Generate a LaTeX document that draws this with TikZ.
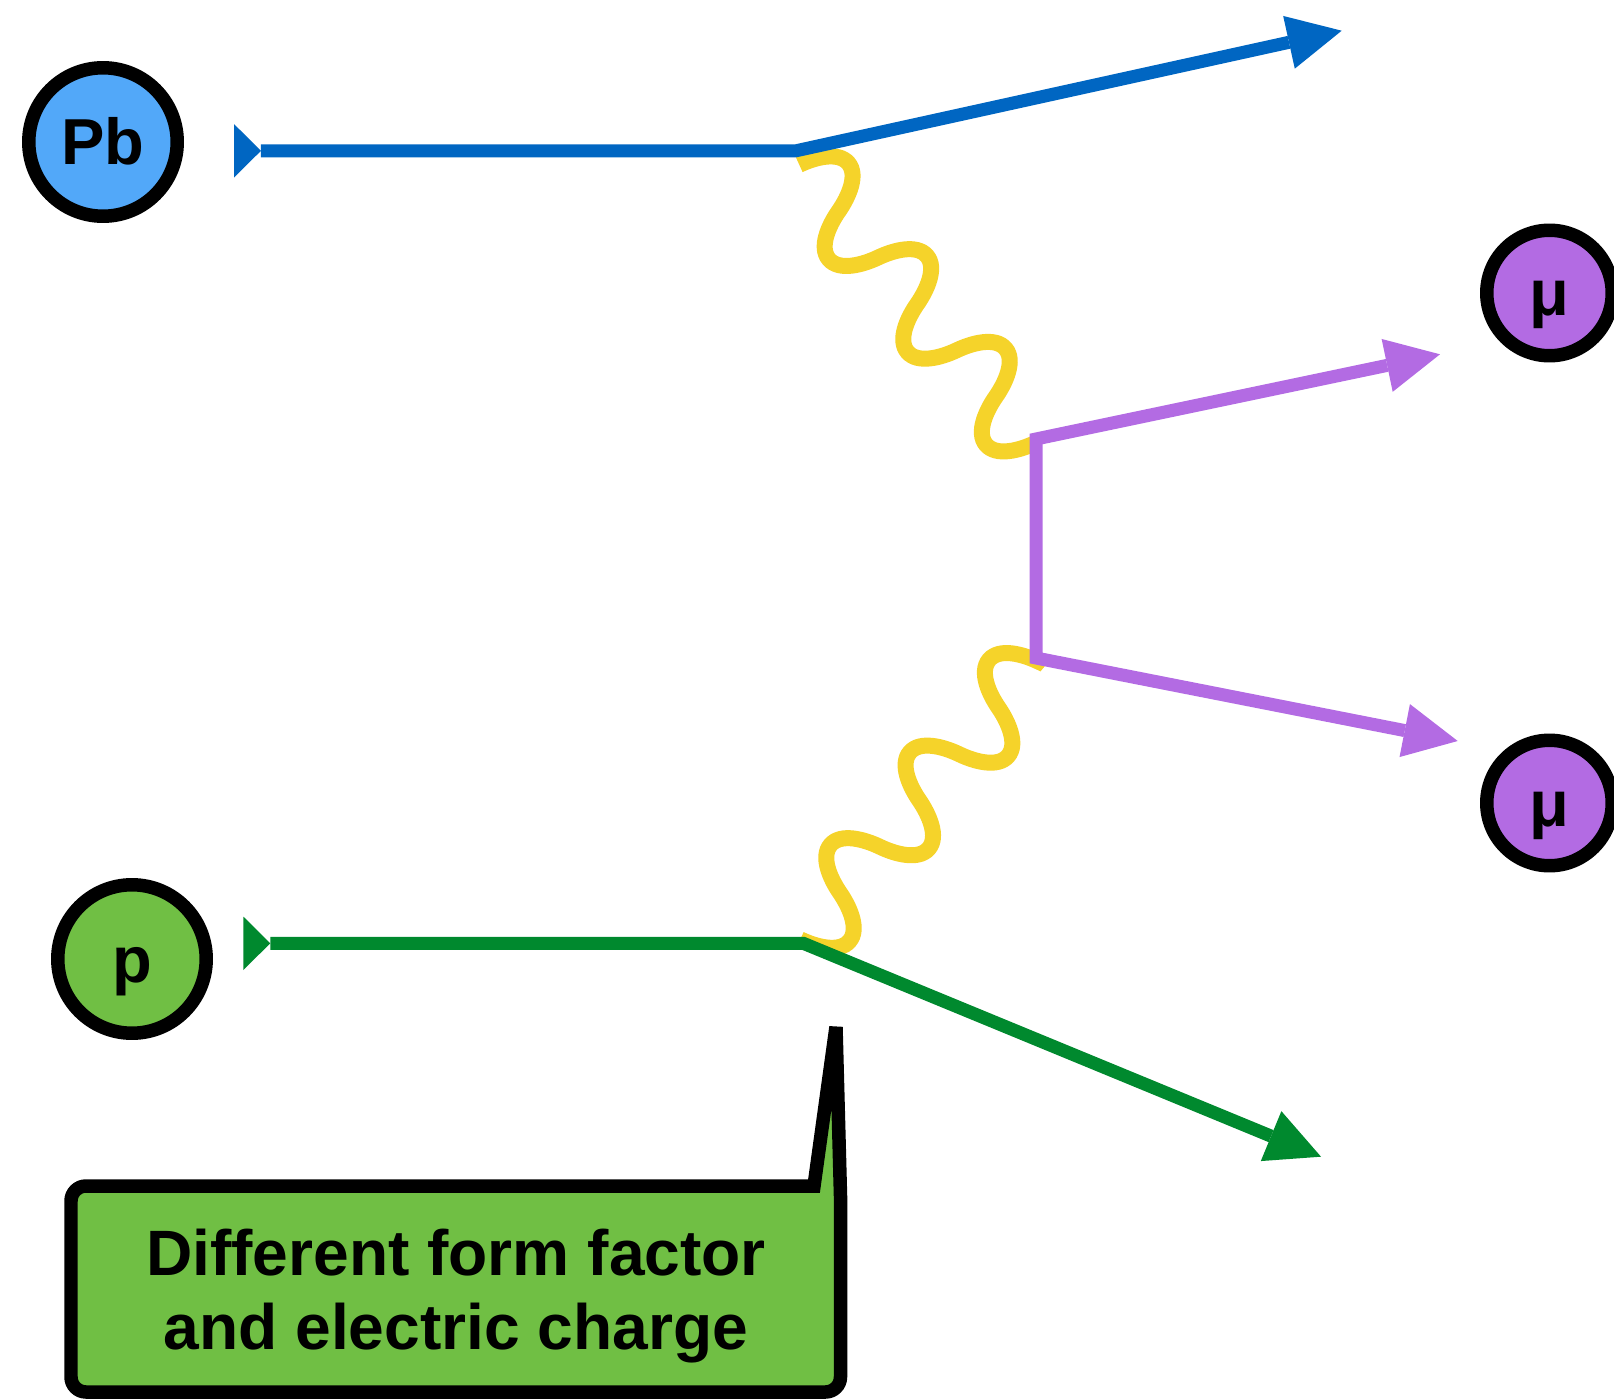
\documentclass[tikz,border=0pt]{standalone}
\usepackage{fontspec}
\setmainfont{Liberation Sans}
\usetikzlibrary{arrows.meta,decorations}

\definecolor{pbfill}{HTML}{52A8F9}
\definecolor{pbline}{HTML}{0066C2}
\definecolor{mucol}{HTML}{B36BE3}
\definecolor{pfill}{HTML}{70BF44}
\definecolor{pline}{HTML}{00892E}
\definecolor{photoncol}{HTML}{F5D32A}

% photon line: six rounded half waves spread over the whole path
\newdimen\wavequarter
\pgfdeclaredecoration{photonwave}{up}{%
  \state{up}[width=\pgfdecoratedpathlength/6-0.05pt, next state=down]{%
    \pgfmathsetlength\wavequarter{\pgfdecoratedpathlength/12}%
    \pgfpathcurveto{\pgfqpoint{0.147\wavequarter}{0.434\pgfdecorationsegmentamplitude}}%
                   {\pgfqpoint{0.485\wavequarter}{\pgfdecorationsegmentamplitude}}%
                   {\pgfqpoint{\wavequarter}{\pgfdecorationsegmentamplitude}}%
    \pgfpathcurveto{\pgfqpoint{1.515\wavequarter}{\pgfdecorationsegmentamplitude}}%
                   {\pgfqpoint{1.853\wavequarter}{0.434\pgfdecorationsegmentamplitude}}%
                   {\pgfqpoint{2\wavequarter}{0pt}}%
  }%
  \state{down}[width=\pgfdecoratedpathlength/6-0.05pt, next state=up]{%
    \pgfmathsetlength\wavequarter{\pgfdecoratedpathlength/12}%
    \pgfpathcurveto{\pgfqpoint{0.147\wavequarter}{-0.434\pgfdecorationsegmentamplitude}}%
                   {\pgfqpoint{0.485\wavequarter}{-\pgfdecorationsegmentamplitude}}%
                   {\pgfqpoint{\wavequarter}{-\pgfdecorationsegmentamplitude}}%
    \pgfpathcurveto{\pgfqpoint{1.515\wavequarter}{-\pgfdecorationsegmentamplitude}}%
                   {\pgfqpoint{1.853\wavequarter}{-0.434\pgfdecorationsegmentamplitude}}%
                   {\pgfqpoint{2\wavequarter}{0pt}}%
  }%
  \state{final}{\pgfpathlineto{\pgfpointdecoratedpathlast}}%
}

\tikzset{
  particle/.style={circle, draw=black, line width=0.27cm, inner sep=0pt,
    font=\fontsize{37pt}{40pt}\selectfont\bfseries,
    text height=0.92cm, text depth=0pt},
  heavy/.style={particle, minimum size=2.97cm},
  lepton/.style={particle, minimum size=2.51cm, fill=mucol},
  headtip/.tip={Triangle[length=1.08cm, width=1.08cm, line width=0pt]},
  backtip/.tip={Triangle[reversed, length=0.54cm, width=1.07cm, line width=0pt]},
  track/.style={line width=0.26cm, line join=miter},
  photon/.style={draw=photoncol, line width=0.32cm, decorate,
    decoration={photonwave, amplitude=0.77cm}},
  callout/.style={draw=black, fill=pfill, line width=0.27cm},
  callouttext/.style={align=center,
    font=\fontsize{36.5pt}{42.2pt}\selectfont\bfseries},
}

\begin{document}
\begin{tikzpicture}[x=0.02cm, y=-0.02cm]
  \useasboundingbox (0,0) rectangle (1614,1399);

  % incoming and outgoing particles
  \node[heavy, fill=pbfill] (pb) at (103,142) {Pb};
  \node[heavy, fill=pfill] (p) at (132,959) {p};
  \node[lepton] (mu1) at (1549.5,293) {μ};
  \node[lepton] (mu2) at (1549.5,803) {μ};

  % track end points and vertices
  \coordinate (pbin)  at (234,150.8);
  \coordinate (pbv)   at (796,150.8);
  \coordinate (pbout) at (1341.7,30.7);
  \coordinate (pin)   at (243.3,943.3);
  \coordinate (pv)    at (803.3,943.3);
  \coordinate (pout)  at (1321,1156.7);
  \coordinate (muv1)  at (1036,439);
  \coordinate (muv2)  at (1036,658);
  \coordinate (mu1tip) at (1440,354.3);
  \coordinate (mu2tip) at (1457.7,741);

  % photon ends
  \coordinate (ga1) at (799.3,164.8);
  \coordinate (gb1) at (1035.4,443.4);
  \coordinate (ga2) at (800.3,939.3);
  \coordinate (gb2) at (1038.6,661.2);

  % exchanged photons
  \draw[photon] (ga1) -- (gb1);
  \draw[photon, decoration={mirror}] (ga2) -- (gb2);

  % particle tracks
  \draw[track, pbline, {backtip}-{headtip}] (pbin) -- (pbv) -- (pbout);
  \draw[track, pline, {backtip}-{headtip}] (pin) -- (pv) -- (pout);
  \draw[track, mucol, {headtip}-{headtip}] (mu1tip) -- (muv1) -- (muv2) -- (mu2tip);

  % speech bubble pointing at the proton vertex
  \coordinate (calltip) at (836,1027);
  \draw[callout] (840.5,1300) -- (840.5,1196) -- (calltip) -- (814,1186)
    [rounded corners=0.3cm] -- (71,1186) -- (71,1392) -- (840.5,1392) -- cycle;
  \node[callouttext] (note) at (456,1296) {Different form factor\\and electric charge};
\end{tikzpicture}
\end{document}
